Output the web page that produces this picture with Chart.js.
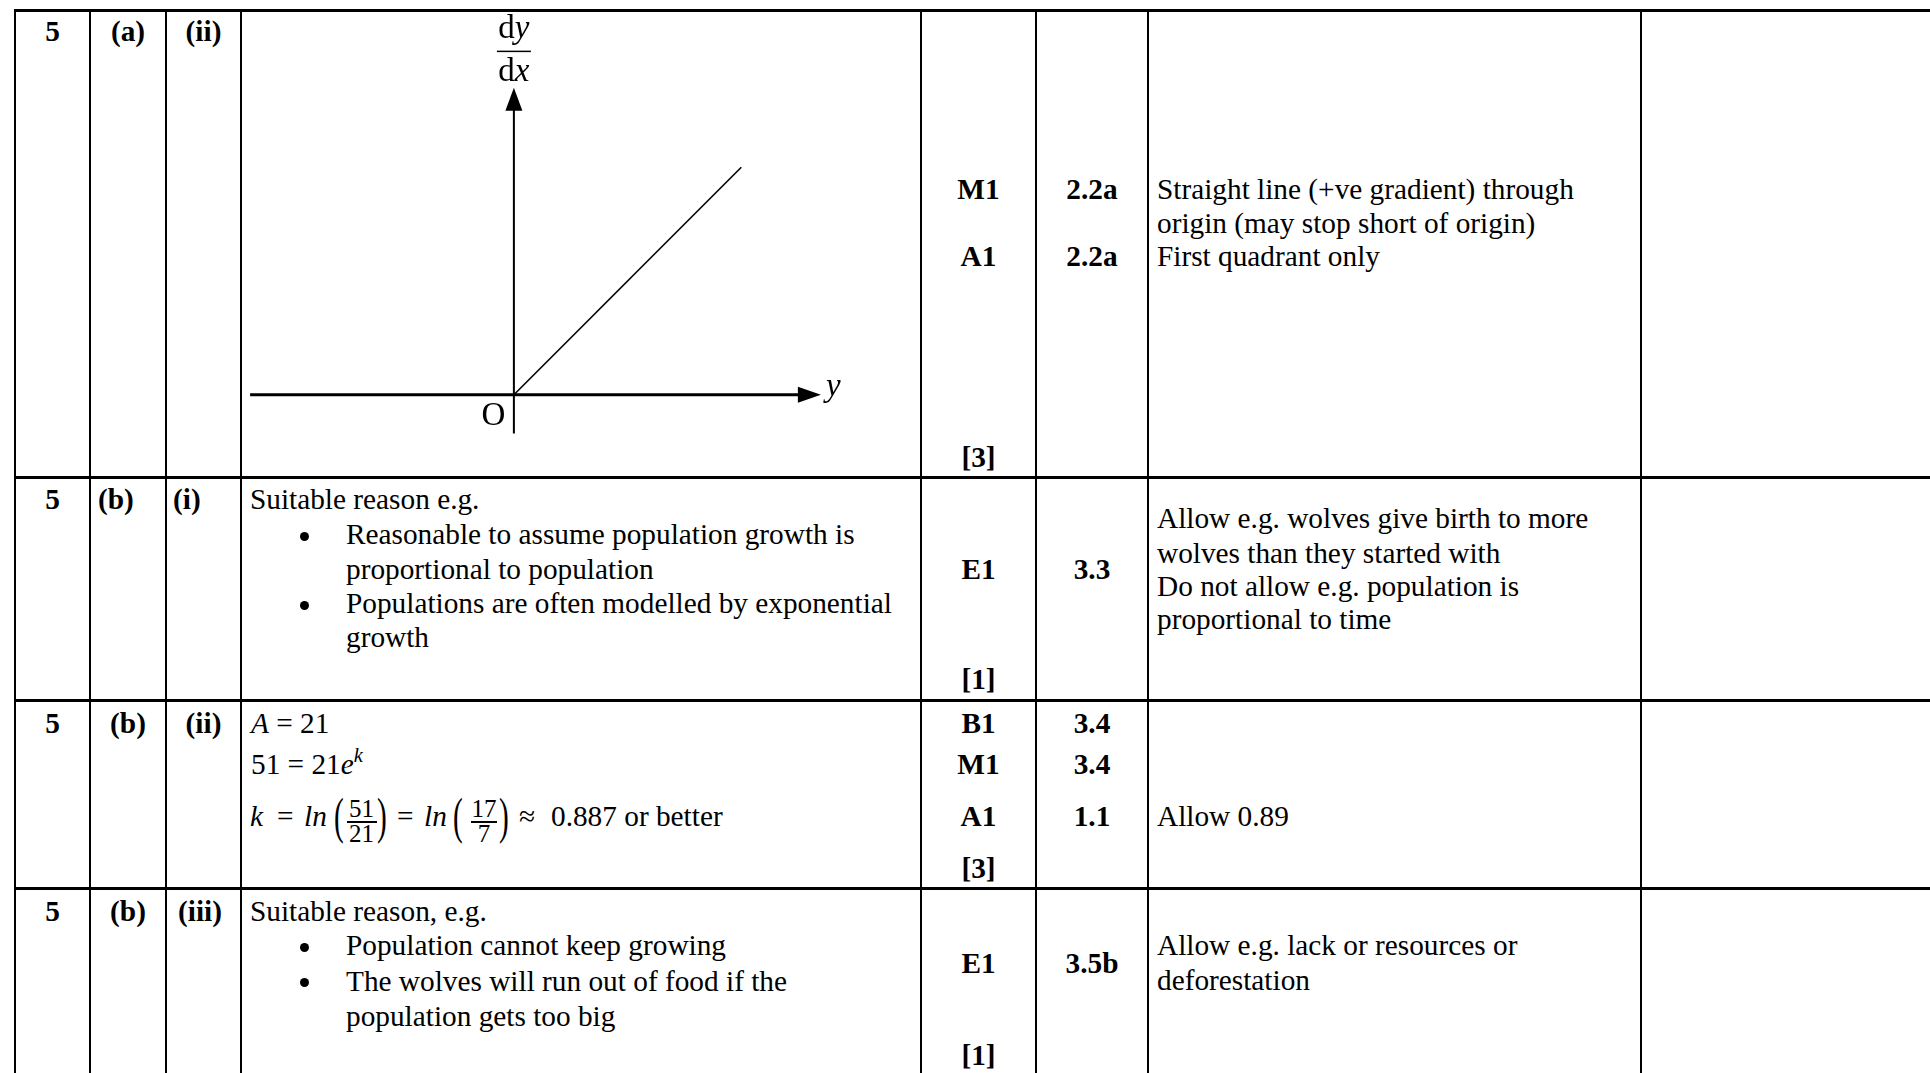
<!DOCTYPE html>
<html><head><meta charset="utf-8">
<script src="https://cdn.jsdelivr.net/npm/chart.js@4/dist/chart.umd.min.js"></script>
<style>
html,body{margin:0;padding:0;background:#fff;}
body{width:1930px;height:1073px;position:relative;overflow:hidden;font-family:"Liberation Serif","Times New Roman",serif;color:#000;}
.hl{position:absolute;background:#000;height:3px;}
.vl{position:absolute;background:#000;width:2px;}
.t{position:absolute;white-space:nowrap;line-height:1;}
.dot{position:absolute;background:#000;width:9px;height:9px;border-radius:50%;}
</style></head><body>
<canvas id="graph" width="614" height="455" style="position:absolute;left:241px;top:8px;width:614px;height:455px;"></canvas>
<script>
// ---------- chart data ----------
const lineX = [0, 10];
const lineY = [0, 10];
const axisXRange = [-11.6, 13.5];
const axisYRange = [-1.7, 13.5];
const xAxisTitle = 'y';
const yAxisTitle = ['d', 'y', 'd', 'x'];
const originLabel = 'O';

// ---------- table content ----------
const qNums = ['5', '5', '5', '5'];
const qParts = ['(a)', '(b)', '(b)', '(b)'];
const qSubs = ['(ii)', '(i)', '(ii)', '(iii)'];
const marks = [['M1', 'A1', '[3]'], ['E1', '[1]'], ['B1', 'M1', 'A1', '[3]'], ['E1', '[1]']];
const aoCodes = [['2.2a', '2.2a'], ['3.3'], ['3.4', '3.4', '1.1'], ['3.5b']];
const guidance = [
  ['Straight line (+ve gradient) through', 'origin (may stop short of origin)', 'First quadrant only'],
  ['Allow e.g. wolves give birth to more', 'wolves than they started with', 'Do not allow e.g. population is', 'proportional to time'],
  ['Allow 0.89'],
  ['Allow e.g. lack or resources or', 'deforestation']
];
const introB1 = 'Suitable reason e.g.';
const bulletsB1 = [['Reasonable to assume population growth is', 'proportional to population'], ['Populations are often modelled by exponential', 'growth']];
const introB3 = 'Suitable reason, e.g.';
const bulletsB3 = [['Population cannot keep growing'], ['The wolves will run out of food if the', 'population gets too big']];
const valueA = '21';
const value51 = '51';
const fracA = ['51', '21'];
const fracB = ['17', '7'];
const kApprox = '0.887';

// ---------- layout ----------
const FS = 29.3;
function put(x, base, html, o) {
  o = o || {};
  const fs = o.fs || FS;
  const d = document.createElement('div');
  d.className = 't';
  d.style.fontSize = fs + 'px';
  d.style.left = x + 'px';
  d.style.top = (base - 0.8375 * fs) + 'px';
  if (o.bold) d.style.fontWeight = 'bold';
  if (o.italic) d.style.fontStyle = 'italic';
  if (o.center) d.style.transform = 'translateX(-50%)';
  d.innerHTML = html;
  document.body.appendChild(d);
  return d;
}
function hline(y, x1, x2) {
  const d = document.createElement('div'); d.className = 'hl';
  d.style.top = y + 'px'; d.style.left = x1 + 'px'; d.style.width = (x2 - x1) + 'px';
  document.body.appendChild(d);
}
function vline(x, y1, y2) {
  const d = document.createElement('div'); d.className = 'vl';
  d.style.left = x + 'px'; d.style.top = y1 + 'px'; d.style.height = (y2 - y1) + 'px';
  document.body.appendChild(d);
}
[9, 476, 699, 887].forEach(y => hline(y, 14, 1930));
[14, 89, 165, 240, 920, 1035, 1147, 1640].forEach(x => vline(x, 9, 1073));

const c1 = 52.5, c2 = 128, c3 = 203.5, c5 = 978.5, c6 = 1092;
const rowBase = [42, 510, 733.5, 921.5];
const markBase = [[200, 267, 468], [580, 690], [733.5, 775, 826.5, 878.5], [973.5, 1065.5]];
const aoBase = [[200, 267], [580], [733.5, 775, 826.5], [973.5]];
const guideBase = [[200, 234, 267], [529, 563.5, 596.5, 629.5], [826.5], [956, 990.5]];
const gx = 1157;

qNums.forEach((q, i) => {
  put(c1, rowBase[i], q, { bold: true, center: true });
  if (i === 1) {
    put(98, rowBase[i], qParts[i], { bold: true });
    put(173, rowBase[i], qSubs[i], { bold: true });
  } else if (i === 3) {
    put(c2, rowBase[i], qParts[i], { bold: true, center: true });
    put(200, rowBase[i], qSubs[i], { bold: true, center: true });
  } else {
    put(c2, rowBase[i], qParts[i], { bold: true, center: true });
    put(c3, rowBase[i], qSubs[i], { bold: true, center: true });
  }
  marks[i].forEach((m, j) => put(c5, markBase[i][j], m, { bold: true, center: true }));
  aoCodes[i].forEach((a, j) => put(c6, aoBase[i][j], a, { bold: true, center: true }));
  guidance[i].forEach((g, j) => put(gx, guideBase[i][j], g));
});

// list bullet markers (round dots)
function bullet(base) {
  const d = document.createElement('div'); d.className = 'dot';
  d.style.left = (304 - 4.5) + 'px';
  d.style.top = (base - 9 - 4.5) + 'px';
  document.body.appendChild(d);
}
// Row (b)(i) answer
put(250, 510, introB1);
const b1Base = [[545, 579.5], [614, 648]];
bulletsB1.forEach((item, k) => {
  bullet(b1Base[k][0]);
  item.forEach((ln, j) => put(346, b1Base[k][j], ln));
});
// Row (b)(iii) answer
put(250, 921.5, introB3);
const b3Base = [[956], [991.5, 1026.5]];
bulletsB3.forEach((item, k) => {
  bullet(b3Base[k][0]);
  item.forEach((ln, j) => put(346, b3Base[k][j], ln));
});

// Row (b)(ii) maths
put(251, 733.5, '<i>A</i> = ' + valueA);
put(251, 775, value51 + ' = ' + valueA + '<i>e</i><span style="font-size:0.7em;position:relative;top:-0.6em"><i>k</i></span>');
const mb = 826.5;
put(250, mb, 'k', { italic: true });
put(277, mb, '=');
put(304, mb, 'ln', { italic: true });
put(424, mb, 'ln', { italic: true });
put(397, mb, '=');
put(519, mb, '&#8776;');
put(551, mb, kApprox + ' or better');
function paren(x, ch) {
  const d = put(x, mb, ch);
  d.style.top = (820.5 - 17) + 'px';
  d.style.transformOrigin = '50% 17px';
  d.style.transform = 'scaleY(1.75)';
}
paren(334, '(');
paren(377, ')');
paren(453, '(');
paren(499, ')');
function frac(cx, w, num, den) {
  put(cx, 817, num, { center: true, fs: 25 });
  put(cx, 842, den, { center: true, fs: 25 });
  const bar = document.createElement('div');
  bar.style.cssText = 'position:absolute;background:#000;height:1.5px;left:' + (cx - w / 2) + 'px;top:821px;width:' + w + 'px';
  document.body.appendChild(bar);
}
frac(361.5, 30, fracA[0], fracA[1]);
frac(484, 26, fracB[0], fracB[1]);

// ---------- chart ----------
const axesPlugin = {
  id: 'arrowAxes',
  beforeDatasetsDraw(chart) {
    const ctx = chart.ctx, xs = chart.scales.x, ys = chart.scales.y;
    const x0 = xs.getPixelForValue(0), y0 = ys.getPixelForValue(0);
    const xl = xs.getPixelForValue(axisXRange[0]), xr = xs.getPixelForValue(axisXRange[1]);
    const yb = ys.getPixelForValue(axisYRange[0]), yt = ys.getPixelForValue(axisYRange[1]);
    ctx.save();
    ctx.strokeStyle = '#000'; ctx.fillStyle = '#000';
    ctx.lineWidth = 3;
    ctx.beginPath(); ctx.moveTo(xl, y0); ctx.lineTo(xr - 18, y0); ctx.stroke();
    ctx.beginPath(); ctx.moveTo(xr, y0); ctx.lineTo(xr - 23, y0 - 8); ctx.lineTo(xr - 23, y0 + 8); ctx.closePath(); ctx.fill();
    ctx.lineWidth = 2;
    ctx.beginPath(); ctx.moveTo(x0, yb); ctx.lineTo(x0, yt + 18); ctx.stroke();
    ctx.beginPath(); ctx.moveTo(x0, yt); ctx.lineTo(x0 - 8.5, yt + 23); ctx.lineTo(x0 + 8.5, yt + 23); ctx.closePath(); ctx.fill();
    ctx.restore();
  },
  afterDatasetsDraw(chart) {
    const ctx = chart.ctx, xs = chart.scales.x, ys = chart.scales.y;
    const x0 = xs.getPixelForValue(0), y0 = ys.getPixelForValue(0);
    const xr = xs.getPixelForValue(axisXRange[1]);
    const yt = ys.getPixelForValue(axisYRange[1]);
    ctx.save();
    ctx.fillStyle = '#000';
    ctx.textBaseline = 'alphabetic';
    const up = "33px 'Liberation Serif'", it = "italic 33px 'Liberation Serif'";
    ctx.font = up; ctx.textAlign = 'center';
    ctx.fillText(originLabel, x0 - 20.5, y0 + 30.5);
    ctx.font = it; ctx.textAlign = 'left';
    ctx.fillText(xAxisTitle, xr + 5, y0 + 1);
    function pair(a, b, base) {
      ctx.font = up; const wa = ctx.measureText(a).width;
      ctx.font = it; const wb = ctx.measureText(b).width;
      const sx = x0 - (wa + wb) / 2;
      ctx.textAlign = 'left';
      ctx.font = up; ctx.fillText(a, sx, base);
      ctx.font = it; ctx.fillText(b, sx + wa, base);
    }
    pair(yAxisTitle[0], yAxisTitle[1], yt - 49.5);
    pair(yAxisTitle[2], yAxisTitle[3], yt - 6.5);
    ctx.fillRect(x0 - 17, yt - 37, 34, 1.5);
    ctx.restore();
  }
};

new Chart(document.getElementById('graph'), {
  type: 'scatter',
  data: {
    datasets: [{
      data: lineX.map((x, i) => ({ x: x, y: lineY[i] })),
      showLine: true,
      borderColor: '#000',
      borderWidth: 1.6,
      pointRadius: 0,
      fill: false
    }]
  },
  options: {
    responsive: false,
    animation: false,
    devicePixelRatio: 1,
    events: [],
    layout: { padding: 0 },
    plugins: { legend: { display: false }, tooltip: { enabled: false } },
    scales: {
      x: { type: 'linear', min: -12, max: 15, display: false },
      y: { type: 'linear', min: -3, max: 17, display: false }
    }
  },
  plugins: [axesPlugin]
});
</script>
</body></html>
